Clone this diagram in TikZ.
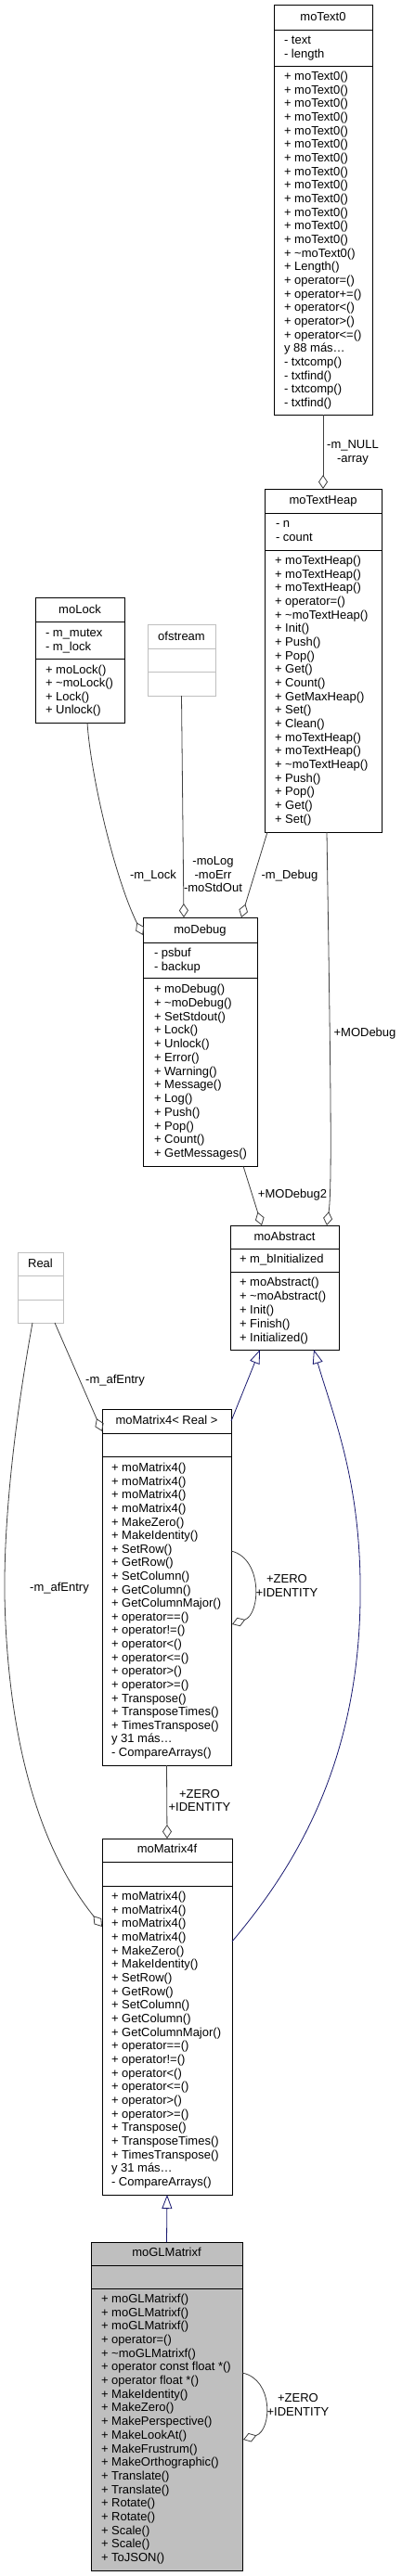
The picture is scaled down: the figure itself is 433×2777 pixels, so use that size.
\documentclass[tikz,border=0pt]{standalone}
\usepackage{fontspec}
\setmainfont{Liberation Sans}
\usetikzlibrary{arrows.meta,calc}
\definecolor{assoc}{HTML}{404040}
\definecolor{inh}{HTML}{191970}
\definecolor{greyb}{HTML}{BFBFBF}
\tikzset{
 txt/.style={font=\fontsize{13}{15}\selectfont, inner sep=0pt, outer sep=0pt, text=black},
 cls/.style={draw=black, line width=0.9pt, fill=white, inner sep=0pt, outer sep=0pt, anchor=north west},
 ext/.style={draw=greyb, line width=0.9pt, fill=white, inner sep=0pt, outer sep=0pt, anchor=north west},
 cur/.style={draw=black, line width=0.9pt, fill=greyb, inner sep=0pt, outer sep=0pt, anchor=north west},
 agg/.style={draw=assoc, line width=0.8pt, -{Diamond[open, length=15pt, width=10pt, line width=0.8pt]}},
 isa/.style={draw=inh, line width=0.8pt, -{Triangle[open, length=15pt, width=11pt, line width=0.8pt]}},
}
\newcommand{\ClassBox}[6]{\node[#1, minimum width={(#5)-(#3)}, minimum height={(#6)-(#4)}] (#2) at (#3,#4) {};}
\newcommand{\Div}[4]{\draw[line width=0.9pt, #1] (#2,#4) -- (#3,#4);}
\newcommand{\Title}[4]{\node[txt, anchor=base] (#1-t) at (#2,{#3+4.5}) {#4};}
\newcommand{\Lines}[5]{\foreach \t [count=\i from 0] in {#5} {\node[txt, anchor=base west] (#1-\i) at (#2,{#3+4.5+\i*#4}) {\t};}}
\newcommand{\Lbl}[4]{\node[txt, anchor=base] (#1) at (#2,{#3+4.5}) {#4};}
\newcommand{\myell}{\textellipsis}
\begin{document}
\begin{tikzpicture}[x=1pt,y=-1pt]
\useasboundingbox (0,0) rectangle (433,2777);
\fill[white] (0,0) rectangle (433,2777);

% moText0
\ClassBox{cls}{moText0}{295}{5}{401}{447}
\Div{black}{295}{401}{32}
\Div{black}{295}{401}{71}
\Title{moText0}{348}{17.5}{moText0}
\Lines{moText0-a}{306}{43}{15}{- text,- length}
\Lines{moText0-m}{306}{82}{14.67}{+ moText0(),+ moText0(),+ moText0(),+ moText0(),+ moText0(),+ moText0(),+ moText0(),+ moText0(),+ moText0(),+ moText0(),+ moText0(),+ moText0(),+ moText0(),+ \textasciitilde moText0(),+ Length(),+ operator=(),+ operator+=(),+ operator<(),+ operator>(),+ operator<=(),y 88 más\myell,- txtcomp(),- txtfind(),- txtcomp(),- txtfind()}

% moTextHeap
\ClassBox{cls}{moTextHeap}{285}{527}{411}{897}
\Div{black}{285}{411}{553}
\Div{black}{285}{411}{593}
\Title{moTextHeap}{348}{539}{moTextHeap}
\Lines{moTextHeap-a}{297}{564}{14.5}{- n,- count}
\Lines{moTextHeap-m}{296}{604}{14.67}{+ moTextHeap(),+ moTextHeap(),+ moTextHeap(),+ operator=(),+ \textasciitilde moTextHeap(),+ Init(),+ Push(),+ Pop(),+ Get(),+ Count(),+ GetMaxHeap(),+ Set(),+ Clean(),+ moTextHeap(),+ moTextHeap(),+ \textasciitilde moTextHeap(),+ Push(),+ Pop(),+ Get(),+ Set()}

% moLock
\ClassBox{cls}{moLock}{38}{644}{134}{779}
\Div{black}{38}{134}{670}
\Div{black}{38}{134}{710}
\Title{moLock}{86}{657}{moLock}
\Lines{moLock-a}{49}{682}{15}{- m\_mutex,- m\_lock}
\Lines{moLock-m}{49}{722}{14.4}{+ moLock(),+ \textasciitilde moLock(),+ Lock(),+ Unlock()}

% ofstream
\ClassBox{ext}{ofstream}{159}{673}{232}{750}
\Div{greyb}{159}{232}{699}
\Div{greyb}{159}{232}{724}
\Title{ofstream}{195.5}{686}{ofstream}

% moDebug
\ClassBox{cls}{moDebug}{154}{989}{277}{1257}
\Div{black}{154}{277}{1016}
\Div{black}{154}{277}{1054}
\Title{moDebug}{215.5}{1002}{moDebug}
\Lines{moDebug-a}{166}{1027}{15}{- psbuf,- backup}
\Lines{moDebug-m}{166}{1066}{14.75}{+ moDebug(),+ \textasciitilde moDebug(),+ SetStdout(),+ Lock(),+ Unlock(),+ Error(),+ Warning(),+ Message(),+ Log(),+ Push(),+ Pop(),+ Count(),+ GetMessages()}

% moAbstract
\ClassBox{cls}{moAbstract}{248}{1321}{365}{1455}
\Div{black}{248}{365}{1346}
\Div{black}{248}{365}{1371}
\Title{moAbstract}{306.5}{1333}{moAbstract}
\Lines{moAbstract-a}{258}{1357}{15}{+ m\_bInitialized}
\Lines{moAbstract-m}{258}{1382}{15}{+ moAbstract(),+ \textasciitilde moAbstract(),+ Init(),+ Finish(),+ Initialized()}

% Real
\ClassBox{ext}{Real}{19}{1350}{68}{1426}
\Div{greyb}{19}{68}{1375}
\Div{greyb}{19}{68}{1401}
\Title{Real}{43.5}{1362}{Real}

% moMatrix4< Real >
\ClassBox{cls}{m4r}{110}{1519}{249}{1903}
\Div{black}{110}{249}{1545}
\Div{black}{110}{249}{1570}
\Title{m4r}{179.5}{1531}{moMatrix4< Real >}
\Lines{m4r-m}{120}{1582}{14.62}{+ moMatrix4(),+ moMatrix4(),+ moMatrix4(),+ moMatrix4(),+ MakeZero(),+ MakeIdentity(),+ SetRow(),+ GetRow(),+ SetColumn(),+ GetColumn(),+ GetColumnMajor(),+ operator==(),+ operator!=(),+ operator<(),+ operator<=(),+ operator>(),+ operator>=(),+ Transpose(),+ TransposeTimes(),+ TimesTranspose(),y 31 más\myell,- CompareArrays()}

% moMatrix4f
\ClassBox{cls}{m4f}{110}{1982}{250}{2366}
\Div{black}{110}{250}{2007}
\Div{black}{110}{250}{2033}
\Title{m4f}{180}{1993}{moMatrix4f}
\Lines{m4f-m}{120}{2044}{14.67}{+ moMatrix4(),+ moMatrix4(),+ moMatrix4(),+ moMatrix4(),+ MakeZero(),+ MakeIdentity(),+ SetRow(),+ GetRow(),+ SetColumn(),+ GetColumn(),+ GetColumnMajor(),+ operator==(),+ operator!=(),+ operator<(),+ operator<=(),+ operator>(),+ operator>=(),+ Transpose(),+ TransposeTimes(),+ TimesTranspose(),y 31 más\myell,- CompareArrays()}

% moGLMatrixf
\ClassBox{cur}{glm}{98}{2417}{261}{2771}
\Div{black}{98}{261}{2442}
\Div{black}{98}{261}{2467}
\Title{glm}{179.5}{2428}{moGLMatrixf}
\Lines{glm-m}{109}{2478}{14.68}{+ moGLMatrixf(),+ moGLMatrixf(),+ moGLMatrixf(),+ operator=(),+ \textasciitilde moGLMatrixf(),+ operator const float *(),+ operator float *(),+ MakeIdentity(),+ MakeZero(),+ MakePerspective(),+ MakeLookAt(),+ MakeFrustrum(),+ MakeOrthographic(),+ Translate(),+ Translate(),+ Rotate(),+ Rotate(),+ Scale(),+ Scale(),+ ToJSON()}

% connectors
\draw[agg] (moText0.south) -- (moTextHeap.north);
\Lbl{l1a}{380}{479}{-m\_NULL}
\Lbl{l1b}{380}{494}{-array}

\draw[agg] ($(moLock.south west)+(56,0)$) .. controls (98,840) and (125,950) .. ($(moDebug.north west)+(0,19)$);
\Lbl{l2}{165}{943}{-m\_Lock}

\draw[agg] (ofstream.south) -- ($(moDebug.north west)+(44,0)$);
\Lbl{l3a}{229.5}{928}{-moLog}
\Lbl{l3b}{229.5}{943}{-moErr}
\Lbl{l3c}{229.5}{957}{-moStdOut}

\draw[agg] ($(moTextHeap.south west)+(3,0)$) -- ($(moDebug.north west)+(106,0)$);
\Lbl{l4}{312}{943}{-m\_Debug}

\draw[agg] ($(moTextHeap.south west)+(67,0)$) .. controls (356,1150) and (358,1280) .. ($(moAbstract.north west)+(104,0)$);
\Lbl{l5}{393}{1113}{+MODebug}

\draw[agg] ($(moDebug.south west)+(108,0)$) -- ($(moAbstract.north west)+(34,0)$);
\Lbl{l6}{315}{1287}{+MODebug2}

\draw[agg] ($(Real.south west)+(40,0)$) -- ($(m4r.north west)+(0,24)$);
\Lbl{l7}{124}{1487}{-m\_afEntry}

\draw[agg] ($(Real.south west)+(16,0)$) .. controls (18,1520) and (4,1630) .. (5,1720) .. controls (8,1870) and (40,1990) .. ($(m4f.north west)+(0,95)$);
\Lbl{l8}{64}{1711}{-m\_afEntry}

\draw[isa] ($(m4r.north east)+(0,13)$) -- ($(moAbstract.south west)+(32,0)$);
\draw[isa] ($(m4f.north east)+(0,111)$) .. controls (320,2010) and (385,1900) .. (388,1727) .. controls (390,1600) and (360,1530) .. ($(moAbstract.south west)+(90,0)$);

\draw[agg] ($(m4r.north east)+(0,153)$) .. controls (283,1680) and (281,1740) .. ($(m4r.north east)+(1,232)$);
\Lbl{l9a}{309}{1702}{+ZERO}
\Lbl{l9b}{309}{1717}{+IDENTITY}

\draw[agg] (m4r.south) -- (m4f.north);
\Lbl{l10a}{215}{1934}{+ZERO}
\Lbl{l10b}{215}{1948}{+IDENTITY}

\draw[isa] (glm.north) -- (m4f.south);

\draw[agg] ($(glm.north east)+(0,141)$) .. controls (295,2565) and (293,2620) .. ($(glm.north east)+(1,213)$);
\Lbl{l11a}{321}{2585}{+ZERO}
\Lbl{l11b}{321}{2600}{+IDENTITY}
\end{tikzpicture}
\end{document}
